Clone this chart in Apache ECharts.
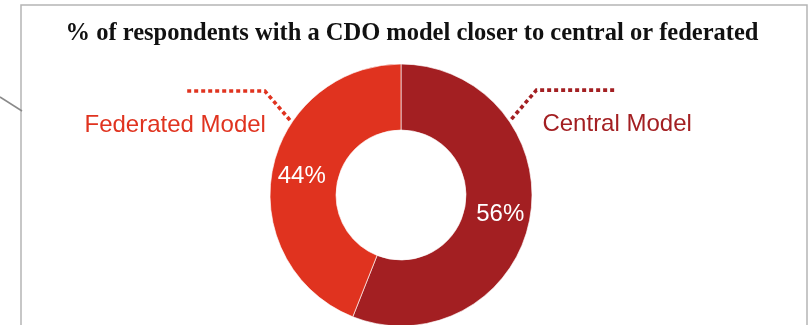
<!DOCTYPE html>
<html>
<head>
<meta charset="utf-8">
<title>CDO model</title>
<script src="https://cdn.jsdelivr.net/npm/echarts@6/dist/echarts.min.js"></script>
<style>
  html, body { margin: 0; padding: 0; background: #ffffff; }
  #chart { width: 811px; height: 325px; }
</style>
</head>
<body>
<div id="chart"></div>
<script>
// Share of respondents per CDO model
const categories = ['Central Model', 'Federated Model'];
const shares = [56, 44];
const sliceColors = ['#a31f22', '#e0331f'];
const titleText = '% of respondents with a CDO model closer to central or federated';

// Donut geometry (pixels)
const CENTER = [401, 195];
const RADIUS = [65, 131];

// Leader line for each outer label: anchor angle on the ring (degrees, counter-clockwise from +x)
const leaderAngle = [34.5, 146];
const LEADER_R = 134;
const LEADER_RISE = 29;
const LEADER_RUN = 25;
const LEADER_FLAT = 78;

const chart = echarts.init(document.getElementById('chart'), null, { renderer: 'canvas' });

const ringData = categories.map((name, i) => ({
  name: name,
  value: shares[i],
  itemStyle: { color: sliceColors[i] }
}));

const outerLabelData = categories.map((name, i) => ({
  name: name,
  value: shares[i],
  label: { color: sliceColors[i] },
  labelLine: { lineStyle: { color: sliceColors[i] } }
}));

function leaderLayout(params) {
  const i = params.dataIndex;
  const a = leaderAngle[i] * Math.PI / 180;
  const side = Math.cos(a) >= 0 ? 1 : -1;
  const ax = CENTER[0] + LEADER_R * Math.cos(a);
  const ay = CENTER[1] - LEADER_R * Math.sin(a);
  const bx = ax + side * LEADER_RUN;
  const by = ay - LEADER_RISE;
  const ex = bx + side * LEADER_FLAT;
  return {
    x: side > 0 ? bx + 6 : bx + 1,
    y: ay + 5,
    align: side > 0 ? 'left' : 'right',
    verticalAlign: 'middle',
    labelLinePoints: [[ax, ay], [bx, by], [ex, by]]
  };
}

chart.setOption({
  animation: false,
  backgroundColor: '#ffffff',
  graphic: [
    {
      type: 'rect',
      shape: { x: 21, y: 5, width: 786, height: 400 },
      style: { fill: 'none', stroke: '#b5b5b5', lineWidth: 1.5 },
      silent: true
    },
    {
      type: 'line',
      shape: { x1: 0, y1: 97, x2: 22, y2: 111 },
      style: { stroke: '#8a8a8a', lineWidth: 1.5 },
      silent: true
    },
    {
      type: 'text',
      x: 412,
      y: 33.5,
      style: {
        text: titleText,
        font: 'bold 24.5px "Liberation Serif", serif',
        fill: '#111111',
        align: 'center',
        verticalAlign: 'middle'
      },
      silent: true
    }
  ],
  series: [
    {
      type: 'pie',
      center: CENTER,
      radius: RADIUS,
      startAngle: 90,
      clockwise: true,
      silent: true,
      avoidLabelOverlap: false,
      itemStyle: { borderColor: 'rgba(255,255,255,0.8)', borderWidth: 0.8 },
      label: {
        show: true,
        position: 'inside',
        formatter: '{c}%',
        color: '#ffffff',
        fontFamily: '"Liberation Sans", Arial, sans-serif',
        fontSize: 24
      },
      labelLine: { show: false },
      data: ringData
    },
    {
      type: 'pie',
      center: CENTER,
      radius: RADIUS,
      startAngle: 90,
      clockwise: true,
      silent: true,
      avoidLabelOverlap: false,
      itemStyle: { color: 'rgba(0,0,0,0)' },
      label: {
        show: true,
        position: 'outside',
        formatter: '{b}',
        fontFamily: '"Liberation Sans", Arial, sans-serif',
        fontSize: 24
      },
      labelLine: {
        show: true,
        length: 20,
        length2: 40,
        lineStyle: { width: 3.6, type: [4, 3], cap: 'butt' }
      },
      labelLayout: leaderLayout,
      data: outerLabelData
    }
  ]
});
</script>
</body>
</html>
